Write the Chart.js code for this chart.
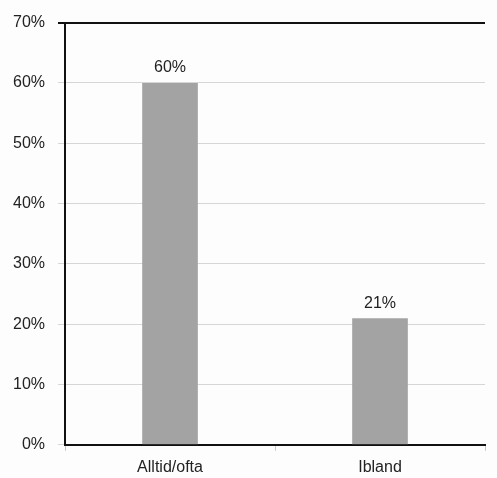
<!DOCTYPE html>
<html>
<head>
<meta charset="utf-8">
<script src="https://cdn.jsdelivr.net/npm/chart.js@4"></script>
<style>
  html, body { margin: 0; padding: 0; background: #fdfdfd; }
  #wrap { width: 497px; height: 478px; }
</style>
</head>
<body>
<div id="wrap"><canvas id="chart"></canvas></div>
<script>
// Kategorier och värden (procent)
const categories = ['Alltid/ofta', 'Ibland'];
const values = [60, 21];
const yTicks = [0, 10, 20, 30, 40, 50, 60, 70];

const fontFamily = '"Liberation Sans", Arial, sans-serif';

// Skriver värdet ovanför varje stapel
const valueLabels = {
  id: 'valueLabels',
  afterDatasetsDraw(chart) {
    const ctx = chart.ctx;
    const meta = chart.getDatasetMeta(0);
    ctx.save();
    ctx.fillStyle = '#222';
    ctx.font = '16px ' + fontFamily;
    ctx.textAlign = 'center';
    ctx.textBaseline = 'bottom';
    meta.data.forEach((bar, i) => {
      ctx.fillText(values[i] + '%', bar.x, bar.y - 7);
    });
    ctx.restore();
  }
};

new Chart(document.getElementById('chart'), {
  type: 'bar',
  data: {
    labels: categories,
    datasets: [{
      data: values,
      backgroundColor: '#a3a3a3',
      borderWidth: 0,
      categoryPercentage: 1,
      barPercentage: 0.265
    }]
  },
  options: {
    responsive: true,
    maintainAspectRatio: false,
    animation: false,
    layout: { padding: { top: 10, right: 12, left: 0, bottom: -6 } },
    plugins: {
      legend: { display: false },
      tooltip: { enabled: false }
    },
    scales: {
      x: {
        grid: {
          offset: true,
          drawOnChartArea: false,
          tickLength: 6,
          color: '#c8c8c8'
        },
        border: { color: '#111', width: 2 },
        ticks: {
          color: '#222',
          padding: 7,
          font: { family: fontFamily, size: 16 }
        }
      },
      y: {
        min: 0,
        max: 70,
        afterBuildTicks(scale) {
          scale.ticks = yTicks.map(v => ({ value: v }));
        },
        grid: {
          tickLength: 7,
          color: ctx => (ctx.tick && ctx.tick.value === 70) ? '#111' : '#d6d6d6',
          lineWidth: ctx => (ctx.tick && ctx.tick.value === 70) ? 2 : 1
        },
        border: { color: '#111', width: 2 },
        ticks: {
          color: '#222',
          padding: 13,
          callback: v => v + '%',
          font: { family: fontFamily, size: 16 }
        }
      }
    }
  },
  plugins: [valueLabels]
});
</script>
</body>
</html>
